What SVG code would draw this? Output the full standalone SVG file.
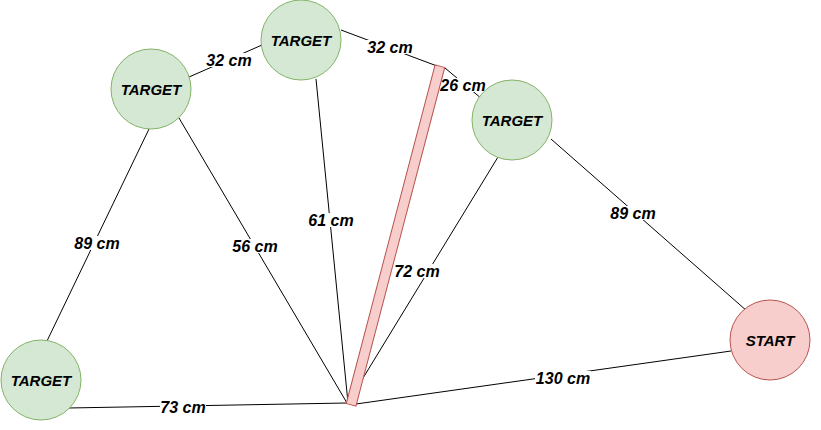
<svg xmlns="http://www.w3.org/2000/svg" width="821" height="430" viewBox="0 0 821 430">
<style>
.tgt{fill:#d5e8d4;stroke:#82b366;stroke-width:1}
.st{fill:#f8cecc;stroke:#b85450;stroke-width:1}
.nt{font-family:"Liberation Sans",Arial,sans-serif;font-size:15px;font-weight:bold;font-style:italic;fill:#000;text-anchor:middle;dominant-baseline:central}
.e{stroke:#000;stroke-width:1;fill:none}
.lb{fill:#fff}
.lt{font-family:"Liberation Sans",Arial,sans-serif;font-size:16px;font-weight:bold;font-style:italic;fill:#000;text-anchor:middle;dominant-baseline:central}
</style>
<rect width="821" height="430" fill="#fff"/>
<g id="connectors">
<line class="e" x1="68" y1="408" x2="347" y2="403"/>
<line class="e" x1="47" y1="341" x2="149" y2="129"/>
<line class="e" x1="179" y1="118" x2="347" y2="403"/>
<line class="e" x1="189" y1="77" x2="262" y2="45"/>
<line class="e" x1="316" y1="79" x2="348" y2="403"/>
<line class="e" x1="341" y1="30" x2="437" y2="66"/>
<line class="e" x1="445" y1="68" x2="482" y2="99"/>
<line class="e" x1="498" y1="157" x2="349" y2="401"/>
<line class="e" x1="551" y1="139" x2="747" y2="311"/>
<line class="e" x1="731" y1="351" x2="356" y2="404"/>
<g id="labels">
<rect class="lb" x="160" y="400" width="46" height="14"/><text class="lt" x="183" y="407">73 cm</text>
<rect class="lb" x="74" y="236" width="46" height="14"/><text class="lt" x="97" y="243">89 cm</text>
<rect class="lb" x="232" y="239" width="46" height="14"/><text class="lt" x="255" y="246">56 cm</text>
<rect class="lb" x="206" y="53" width="46" height="14"/><text class="lt" x="229" y="60">32 cm</text>
<rect class="lb" x="308" y="213" width="46" height="14"/><text class="lt" x="331" y="220">61 cm</text>
<rect class="lb" x="367" y="40" width="46" height="14"/><text class="lt" x="390" y="47">32 cm</text>
<rect class="lb" x="440" y="78" width="46" height="14"/><text class="lt" x="463" y="85">26 cm</text>
<rect class="lb" x="394" y="264" width="46" height="14"/><text class="lt" x="417" y="271">72 cm</text>
<rect class="lb" x="610" y="206" width="46" height="14"/><text class="lt" x="633" y="213">89 cm</text>
<rect class="lb" x="535" y="371" width="56" height="14"/><text class="lt" x="563" y="378">130 cm</text>
</g>
</g>
<g id="bar">
<rect class="st" x="-5" y="-175" width="10" height="350" transform="translate(395.5 235.5) rotate(14.7)"/>
</g>
<g id="target1"><circle class="tgt" cx="41" cy="380" r="40"/><text class="nt" x="41" y="380">TARGET</text></g>
<g id="target2"><circle class="tgt" cx="151" cy="89" r="40"/><text class="nt" x="151" y="89">TARGET</text></g>
<g id="target3"><circle class="tgt" cx="301" cy="40" r="40"/><text class="nt" x="301" y="40">TARGET</text></g>
<g id="target4"><circle class="tgt" cx="512" cy="120" r="40"/><text class="nt" x="512" y="120">TARGET</text></g>
<g id="start"><circle class="st" cx="770" cy="340" r="40"/><text class="nt" x="770" y="340">START</text></g>
</svg>
